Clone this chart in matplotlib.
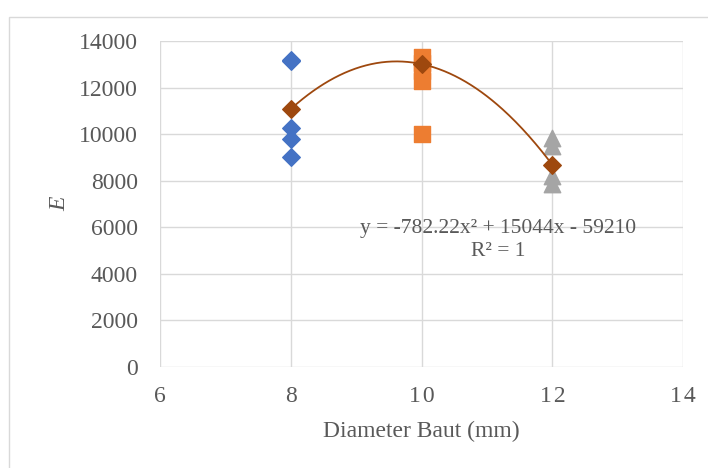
import numpy as np
import matplotlib
matplotlib.use('Agg')
import matplotlib.pyplot as plt
from matplotlib import rcParams
from matplotlib.patches import Rectangle


rcParams['font.family'] = 'serif'
rcParams['font.serif'] = ['Liberation Serif']
rcParams['font.size'] = 17

# data
diameter_8 = [8, 8, 8, 8, 8]
e_8 = [13200, 13160, 10250, 9780, 9000]
diameter_10 = [10, 10, 10, 10, 10]
e_10 = [13320, 13050, 12700, 12280, 10000]
diameter_12 = [12, 12, 12, 12]
e_12 = [9850, 9500, 8200, 7850]
mean_diameter = [8, 10, 12]
mean_e = [11080, 13008, 8678]
trend_coef = [-782.22, 15044, -59210]

x_ticks = [6, 8, 10, 12, 14]
y_ticks = [0, 2000, 4000, 6000, 8000, 10000, 12000, 14000]


def plot_chart() -> None:
    '''Scatter of E against bolt diameter with a quadratic trendline'''
    fig = plt.figure(figsize=(7.08, 4.68), dpi=100)
    ax = fig.add_axes([0.226, 0.2158, 0.739, 0.6966])

    # chart border
    fig.patches.append(Rectangle((9 / 708, -0.1), 1.2, 1 - 17 / 468 + 0.1,
                                 transform=fig.transFigure, fill=False,
                                 edgecolor='#d9d9d9', linewidth=1.0))

    ax.scatter(diameter_8, e_8, marker='D', s=80, color='#4472C4', zorder=3)
    ax.scatter(diameter_10, e_10, marker='s', s=120, color='#ED7D31', zorder=3)
    ax.scatter(diameter_12, e_12, marker='^', s=140, color='#A5A5A5', zorder=3)

    xs = np.linspace(mean_diameter[0], mean_diameter[-1], 200)
    ax.plot(xs, np.polyval(trend_coef, xs), color='#9E480E', linewidth=1.3,
            zorder=4)
    ax.scatter(mean_diameter, mean_e, marker='D', s=80, color='#9E480E',
               zorder=5)

    ax.set_xlim(6, 14)
    ax.set_ylim(0, 14000)
    ax.set_xticks(x_ticks)
    ax.set_yticks(y_ticks)
    ax.set_xticklabels(['\u200a'.join(str(t)) if t >= 10 else str(t)
                        for t in x_ticks])
    ax.grid(color='#d9d9d9', linewidth=1.0)
    ax.set_axisbelow(True)
    for spine in ax.spines.values():
        spine.set_visible(False)
    ax.tick_params(length=0, colors='#595959', labelsize=17)
    ax.tick_params(axis='y', pad=16)
    ax.tick_params(axis='x', pad=14)

    ax.set_xlabel('Diameter Baut (mm)', color='#595959', labelpad=10)
    ax.set_ylabel('E', style='italic', color='#595959', labelpad=6)

    ax.text(11.17, 5950, 'y = -782.22x² + 15044x - 59210',
            ha='center', va='center', color='#595959', fontsize=15.5)
    ax.text(11.17, 4980, 'R² = 1', ha='center', va='center',
            color='#595959', fontsize=15.5)

    fig.savefig('out.png', dpi=100)


if __name__ == '__main__':
    plot_chart()
